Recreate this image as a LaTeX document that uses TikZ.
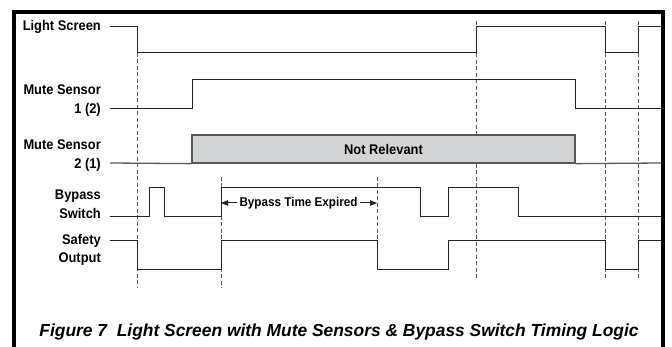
\documentclass[tikz,border=0pt]{standalone}
\usepackage{fontspec}
\setmainfont{Liberation Sans}[FakeStretch=0.92]
\newfontfamily\capfont{Liberation Sans}
\usetikzlibrary{arrows.meta}
\definecolor{nrgray}{RGB}{211,212,214}

\begin{document}
\begin{tikzpicture}[x=1pt, y=-1pt,
  font=\fontsize{14}{18.5}\selectfont\bfseries,
  lbl/.style={anchor=east, align=right, inner sep=0pt},
  sig/.style={draw=black!85, line width=1pt},
  guide/.style={draw=black!65, line width=0.8pt, dash pattern=on 4pt off 2.5pt},
  nrbox/.style={draw=black!65, fill=nrgray, line width=1.3pt, minimum width=383pt,
                minimum height=28pt, inner sep=0pt},
  >={Triangle[length=7pt,width=5.5pt]}]
  \useasboundingbox (0,0) rectangle (672,347);
  \draw[line width=3.5pt] (14,347) -- (14,12) -- (663,12) -- (663,347);

  \node[lbl] (ls)  at (101,27)    {Light Screen};
  \node[lbl] (ms1) at (101,100.6) {Mute Sensor\\1 (2)};
  \node[lbl] (ms2) at (101,155.6) {Mute Sensor\\2 (1)};
  \node[lbl] (bs)  at (101,204.3) {Bypass\\Switch};
  \node[lbl] (so)  at (101,249.7) {Safety\\Output};

  \foreach \x/\ya/\yb in {137/27/288, 221/177/288, 377/177/270, 476/21/280, 605/21/280, 638/21/280}
    \draw[guide] (\x,\ya) -- (\x,\yb);

  \draw[sig] (110,27) -- (137,27) -- (137,53) -- (476,53) -- (476,27) -- (605,27)
    -- (605,53) -- (638,53) -- (638,27) -- (661,27);
  \draw[sig] (110,109) -- (192,109) -- (192,80) -- (575,80) -- (575,109) -- (661,109);
  \node[nrbox] (nr) at (383.5,149) {Not Relevant};
  \draw[sig, draw=black!65, line width=1.3pt] (110,163) -- (nr.south west);
  \draw[sig, draw=black!65, line width=1.3pt] (nr.south east) -- (661,163);
  \draw[sig] (110,217) -- (149,217) -- (149,188) -- (164,188) -- (164,217) -- (221,217)
    -- (221,188) -- (420,188) -- (420,217) -- (448,217) -- (448,188) -- (518,188)
    -- (518,217) -- (661,217);
  \draw[sig] (110,241) -- (137,241) -- (137,270) -- (221,270) -- (221,241) -- (377,241)
    -- (377,270) -- (448,270) -- (448,241) -- (605,241) -- (605,270) -- (638,270)
    -- (638,241) -- (661,241);

  \coordinate (tb) at (221,177);
  \coordinate (tc) at (377,177);
  \node[font=\fontsize{12.7}{15}\selectfont\bfseries, inner sep=2pt] (bte) at (298.5,203)
    {Bypass Time Expired};
  \draw[sig,->] (bte.west) -- (bte.west -| tb);
  \draw[sig,->] (bte.east) -- (bte.east -| tc);

  \node[anchor=base, font=\capfont\fontsize{17.4}{20}\selectfont\bfseries\itshape] (cap)
    at (339,336) {Figure 7\ \ Light Screen with Mute Sensors \& Bypass Switch Timing Logic};
\end{tikzpicture}
\end{document}
